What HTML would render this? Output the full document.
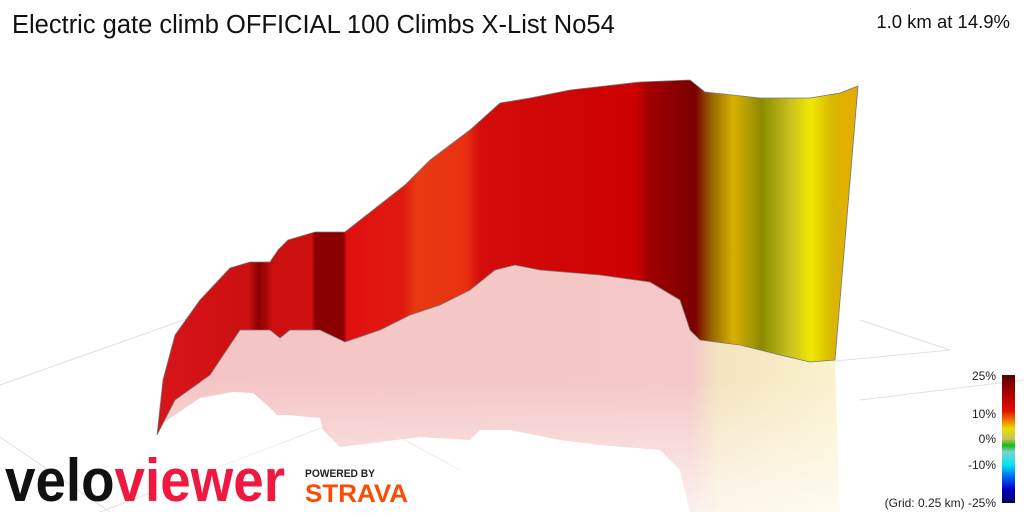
<!DOCTYPE html>
<html><head><meta charset="utf-8"><style>
body{margin:0;width:1024px;height:512px;background:#fff;overflow:hidden;font-family:"Liberation Sans",sans-serif}
</style></head><body>
<svg width="1024" height="512" xmlns="http://www.w3.org/2000/svg">
<defs>
<linearGradient id="w" gradientUnits="userSpaceOnUse" x1="157" y1="0" x2="860" y2="0">
<stop offset="0" stop-color="#d8141a"/>
<stop offset="0.13" stop-color="#cc1010"/>
<stop offset="0.145" stop-color="#8a0000"/>
<stop offset="0.165" stop-color="#cc1010"/>
<stop offset="0.22" stop-color="#d01010"/>
<stop offset="0.225" stop-color="#8a0000"/>
<stop offset="0.265" stop-color="#8a0000"/>
<stop offset="0.27" stop-color="#e01010"/>
<stop offset="0.35" stop-color="#e01a10"/>
<stop offset="0.37" stop-color="#e83a10"/>
<stop offset="0.44" stop-color="#e83010"/>
<stop offset="0.46" stop-color="#d40c0c"/>
<stop offset="0.68" stop-color="#cc0000"/>
<stop offset="0.7" stop-color="#a00000"/>
<stop offset="0.765" stop-color="#7a0000"/>
<stop offset="0.79" stop-color="#9a6a00"/>
<stop offset="0.82" stop-color="#d8b000"/>
<stop offset="0.86" stop-color="#8a8a00"/>
<stop offset="0.9" stop-color="#c8c020"/>
<stop offset="0.93" stop-color="#f0e800"/>
<stop offset="0.96" stop-color="#d8b800"/>
<stop offset="1" stop-color="#e8a800"/>
</linearGradient>
<linearGradient id="r" gradientUnits="userSpaceOnUse" x1="157" y1="0" x2="860" y2="0">
<stop offset="0" stop-color="#f4c4c4"/>
<stop offset="0.76" stop-color="#f4c8c8"/>
<stop offset="0.8" stop-color="#f4e4c0"/>
<stop offset="1" stop-color="#fbf4d0"/>
</linearGradient>
<linearGradient id="rv" x1="0" y1="0" x2="0" y2="1">
<stop offset="0" stop-color="#fff" stop-opacity="0"/>
<stop offset="1" stop-color="#fff" stop-opacity="0.7"/>
</linearGradient>
<linearGradient id="leg" x1="0" y1="0" x2="0" y2="1">
<stop offset="0" stop-color="#5a0000"/>
<stop offset="0.15" stop-color="#b00000"/>
<stop offset="0.28" stop-color="#e01000"/>
<stop offset="0.36" stop-color="#f08000"/>
<stop offset="0.42" stop-color="#e8e000"/>
<stop offset="0.5" stop-color="#c8c060"/>
<stop offset="0.55" stop-color="#10c010"/>
<stop offset="0.6" stop-color="#80d0d0"/>
<stop offset="0.7" stop-color="#00e8f0"/>
<stop offset="0.8" stop-color="#0060f0"/>
<stop offset="0.9" stop-color="#0000c0"/>
<stop offset="1" stop-color="#000060"/>
</linearGradient>
</defs>
<g stroke="#e0e0e0" stroke-width="1" fill="none">
<line x1="0" y1="385" x2="240" y2="300"/>
<line x1="0" y1="437" x2="110" y2="512"/>
<line x1="220" y1="340" x2="460" y2="470"/>
<line x1="100" y1="512" x2="500" y2="360"/>
<line x1="690" y1="375" x2="950" y2="350"/>
<line x1="860" y1="320" x2="950" y2="350"/>
<line x1="860" y1="400" x2="1024" y2="380"/>
</g>
<polygon fill="url(#r)" points="157,435 175,400 210,375 240,330 270,330 280,338 290,330 320,330 345,342 380,330 410,315 440,305 470,290 495,270 515,265 540,270 600,275 650,282 680,300 690,330 700,340 740,345 780,355 810,362 835,360 840,512 690,512 680,470 660,450 600,445 560,440 510,430 480,430 470,440 420,437 340,447 323,430 320,418 287,415 277,415 267,405 253,393 233,392 200,398 163,423"/>
<rect x="150" y="380" width="700" height="132" fill="url(#rv)"/>
<polygon fill="url(#w)" stroke="#777" stroke-width="0.8" points="157,435 163,380 175,335 200,300 230,268 250,262 270,262 278,250 288,240 315,232 345,232 405,185 430,160 470,130 500,103 530,98 570,90 640,82 690,80 705,92 760,98 810,98 840,93 858,86 835,360 810,362 780,355 740,345 700,340 690,330 680,300 650,282 600,275 540,270 515,265 495,270 470,290 440,305 410,315 380,330 345,342 320,330 290,330 280,338 270,330 240,330 210,375 175,400"/>
<text x="12" y="33" font-size="25.5" fill="#111">Electric gate climb OFFICIAL 100 Climbs X-List No54</text>
<text x="1010" y="28" font-size="18.5" fill="#111" text-anchor="end">1.0 km at 14.9%</text>
<rect x="1002" y="375" width="13" height="128" fill="url(#leg)"/>
<g font-size="12" fill="#222" text-anchor="end">
<text x="996" y="380">25%</text>
<text x="996" y="418">10%</text>
<text x="996" y="443">0%</text>
<text x="996" y="469">-10%</text>
<text x="996" y="507">(Grid: 0.25 km) -25%</text>
</g>
<text x="5" y="501" font-size="60" font-weight="bold" textLength="280" lengthAdjust="spacingAndGlyphs" fill="#111">velo<tspan fill="#f01840">viewer</tspan></text>
<text x="305" y="477" font-size="11" font-weight="bold" fill="#222" textLength="70" lengthAdjust="spacingAndGlyphs">POWERED BY</text>
<text x="305" y="502" font-size="25" font-weight="bold" fill="#fc4c02" textLength="103" lengthAdjust="spacingAndGlyphs">STRAVA</text>
</svg>
</body></html>
